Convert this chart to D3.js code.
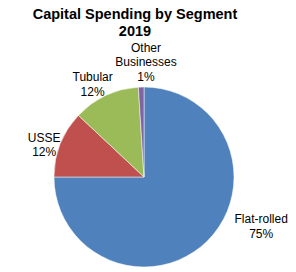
<!DOCTYPE html>
<html>
<head>
<meta charset="utf-8">
<script src="https://cdn.jsdelivr.net/npm/d3@7"></script>
<style>
  body { margin: 0; background: #fff; }
  text { font-family: "Liberation Sans", Arial, sans-serif; fill: #000; }
</style>
</head>
<body>
<div id="viz"></div>
<script>
// chart data
const segments = ["Flat-rolled", "USSE", "Tubular", "Other Businesses"];
const shares = [75, 12, 12, 1];
const colors = ["#4F81BD", "#C0504D", "#9BBB59", "#8064A2"];
const labelLines = [["Flat-rolled", "75%"], ["USSE", "12%"], ["Tubular", "12%"], ["Other", "Businesses", "1%"]];

document.addEventListener("DOMContentLoaded", () => {
    const width = 296;
    const height = 272;

    const svg = d3.select("#viz")
        .append("svg")
        .attr("width", width)
        .attr("height", height);

    // title
    const title = svg.append("text")
        .attr("x", 135)
        .attr("y", 19)
        .attr("text-anchor", "middle")
        .style("font-size", "14.5px")
        .style("font-weight", "bold");
    title.append("tspan").attr("x", 135).text("Capital Spending by Segment");
    title.append("tspan").attr("x", 135).attr("dy", 16.5).text("2019");

    const cx = 144, cy = 177, r = 90;

    const pie = d3.pie().sort(null).value(d => d.value);
    const arc = d3.arc().innerRadius(0).outerRadius(r);

    const data = segments.map((s, i) => ({ name: s, value: shares[i], color: colors[i], lines: labelLines[i] }));
    const arcs = pie(data);

    const g = svg.append("g").attr("transform", `translate(${cx},${cy})`);

    g.selectAll("path")
        .data(arcs)
        .enter()
        .append("path")
        .attr("d", arc)
        .attr("fill", d => d.data.color)
        .attr("stroke", "#fff")
        .attr("stroke-width", 0.5);

    // label placement like Excel's best fit, pushed outside the pie
    const labelRadius = [127, 105, 106, 115];
    const labelAngle = [112.7, 288, 331, 361];
    const lineH = 14.5;

    arcs.forEach((d, i) => {
        const a = labelAngle[i] * Math.PI / 180;
        const lx = Math.sin(a) * labelRadius[i];
        const ly = -Math.cos(a) * labelRadius[i];
        const n = d.data.lines.length;
        const t = g.append("text")
            .attr("text-anchor", "middle")
            .style("font-size", "12px");
        d.data.lines.forEach((line, k) => {
            t.append("tspan")
                .attr("x", lx)
                .attr("y", ly + (k - (n - 1) / 2) * lineH + 4.3)
                .text(line);
        });
    });
});
</script>
</body>
</html>
